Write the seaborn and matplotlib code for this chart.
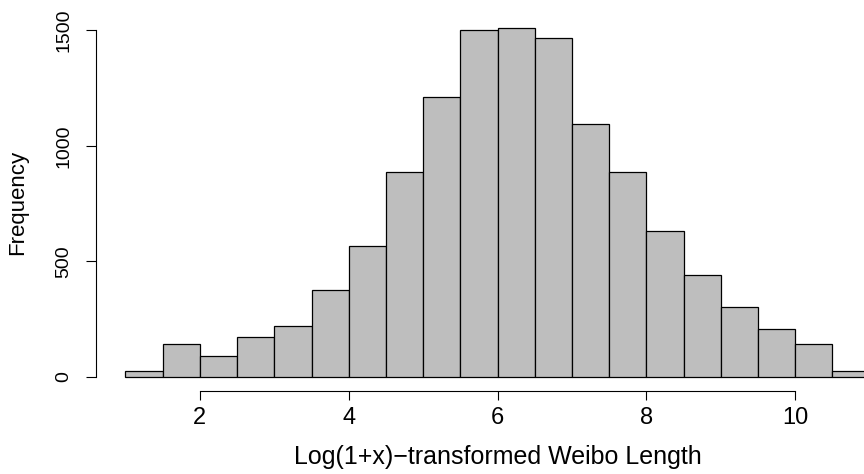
import numpy as np
import pandas as pd
import matplotlib
matplotlib.use("Agg")
import matplotlib.pyplot as plt
import seaborn as sns

# Bin edges (width 0.5 from 1 to 11) and counts
bin_edges = [1.0, 1.5, 2.0, 2.5, 3.0, 3.5, 4.0, 4.5, 5.0, 5.5, 6.0,
             6.5, 7.0, 7.5, 8.0, 8.5, 9.0, 9.5, 10.0, 10.5, 11.0]
counts = [23, 140, 89, 170, 218, 375, 568, 885, 1210, 1502,
          1508, 1467, 1095, 885, 631, 441, 300, 206, 143, 26]
x_ticks = [2, 4, 6, 8, 10]
y_ticks = [0, 500, 1000, 1500]

centers = [(a + b) / 2 for a, b in zip(bin_edges[:-1], bin_edges[1:])]
df = pd.DataFrame({"value": centers, "count": counts})

sns.set_style("white")
plt.rcParams["font.family"] = ["Liberation Sans", "DejaVu Sans"]

fig = plt.figure(figsize=(8.64, 4.74), dpi=100)
ax = fig.add_axes([0.11076, 0.17447, 0.93021, 0.79620])

sns.histplot(data=df, x="value", weights="count", bins=bin_edges,
             color="#BEBEBE", edgecolor="black", linewidth=0.9, alpha=1.0, ax=ax)

ax.set_xlim(0.6, 11.4)
ax.set_ylim(-63, 1571)

for s in ["top", "right"]:
    ax.spines[s].set_visible(False)
for s in ["left", "bottom"]:
    ax.spines[s].set_color("black")
    ax.spines[s].set_linewidth(0.8)
ax.spines["bottom"].set_bounds(2, 10)
ax.spines["left"].set_bounds(0, 1500)

ax.set_xticks(x_ticks)
ax.set_yticks(y_ticks)
ax.set_xticklabels([str(v) for v in x_ticks])
ax.set_yticklabels([str(v) for v in y_ticks], rotation=90, va="center")
ax.tick_params(axis="x", bottom=True, direction="out", length=6.8, width=0.8,
               color="black", labelsize=17, pad=4.7, labelcolor="black")
ax.tick_params(axis="y", left=True, direction="out", length=7.5, width=0.8,
               color="black", labelsize=14, pad=9.5, labelcolor="black")

ax.set_xlabel("Log(1+x)\u2212transformed Weibo Length", fontsize=18, color="black")
ax.set_ylabel("Frequency", fontsize=16, color="black")
ax.xaxis.set_label_coords(0.5, -0.174)
ax.xaxis.label.set_va("center")
ax.yaxis.set_label_coords(-0.0967, 0.5)
ax.yaxis.label.set_va("center")

fig.savefig("out.png", dpi=100)
